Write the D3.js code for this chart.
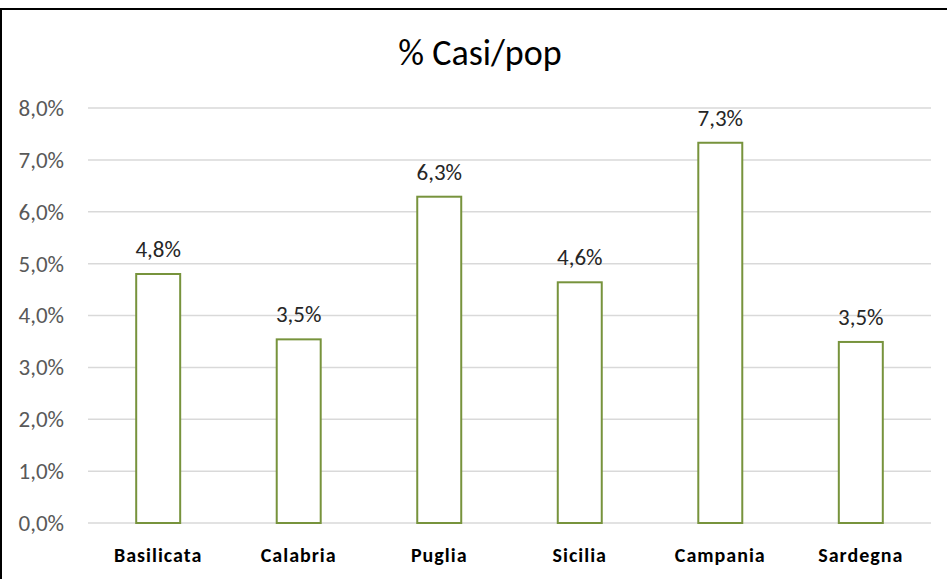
<!DOCTYPE html>
<html>
<head>
<meta charset="utf-8">
<script src="https://cdn.jsdelivr.net/npm/d3@7"></script>
<style>
  body { margin: 0; background: #fff; }
  text { font-family: Carlito, Lato, "Open Sans", sans-serif; }
</style>
</head>
<body>
<div id="chart"></div>
<script>
// data
const regions = ["Basilicata", "Calabria", "Puglia", "Sicilia", "Campania", "Sardegna"];
const casiPop = [4.80, 3.54, 6.29, 4.64, 7.33, 3.49];
const yTicks = [0, 1, 2, 3, 4, 5, 6, 7, 8];

const width = 947, height = 579;
const margin = { top: 108, right: 16, bottom: 56, left: 88 };

const svg = d3.select("#chart")
    .append("svg")
    .attr("width", width)
    .attr("height", height);

// chart frame
svg.append("rect")
    .attr("x", 1).attr("y", 9)
    .attr("width", 960).attr("height", 600)
    .attr("fill", "none")
    .attr("stroke", "#000")
    .attr("stroke-width", 2);

svg.append("text")
    .attr("x", 480).attr("y", 65)
    .attr("text-anchor", "middle")
    .attr("font-size", 36)
    .attr("fill", "#000")
    .text("% Casi/pop");

const x = d3.scaleBand()
    .domain(regions)
    .range([margin.left, width - margin.right])
    .paddingInner(0.687)
    .paddingOuter(0.343);

const y = d3.scaleLinear()
    .domain([0, 8])
    .range([height - margin.bottom, margin.top]);

const fmt = v => d3.format(".1f")(v).replace(".", ",") + "%";

// gridlines
svg.append("g")
    .selectAll("line")
    .data(yTicks)
    .join("line")
    .attr("x1", margin.left)
    .attr("x2", width - margin.right)
    .attr("y1", d => y(d))
    .attr("y2", d => y(d))
    .attr("stroke", "#d9d9d9")
    .attr("stroke-width", 1.5);

// y axis labels
const yAxis = svg.append("g")
    .attr("transform", `translate(${margin.left - 24},0)`)
    .call(d3.axisLeft(y).tickValues(yTicks).tickFormat(fmt).tickSize(0).tickPadding(0));
yAxis.select(".domain").remove();
yAxis.selectAll("text")
    .attr("font-size", 23)
    .attr("fill", "#595959")
    .attr("font-family", null);

// bars
svg.append("g")
    .selectAll("rect")
    .data(casiPop)
    .join("rect")
    .attr("x", (d, i) => x(regions[i]))
    .attr("y", d => y(d))
    .attr("width", x.bandwidth())
    .attr("height", d => y(0) - y(d))
    .attr("fill", "#fff")
    .attr("stroke", "#77933c")
    .attr("stroke-width", 2);

// value labels
svg.append("g")
    .selectAll("text")
    .data(casiPop)
    .join("text")
    .attr("x", (d, i) => x(regions[i]) + x.bandwidth() / 2)
    .attr("y", d => y(d) - 17)
    .attr("text-anchor", "middle")
    .attr("font-size", 23)
    .attr("fill", "#262626")
    .text(fmt);

// category labels
const xAxis = svg.append("g")
    .attr("transform", `translate(0,${height - margin.bottom})`)
    .call(d3.axisBottom(x).tickSize(0).tickPadding(0));
xAxis.select(".domain").remove();
xAxis.selectAll("text")
    .attr("dy", 39)
    .attr("font-size", 20)
    .attr("font-weight", "bold")
    .attr("letter-spacing", 1)
    .attr("fill", "#000")
    .attr("font-family", null);
</script>
</body>
</html>
